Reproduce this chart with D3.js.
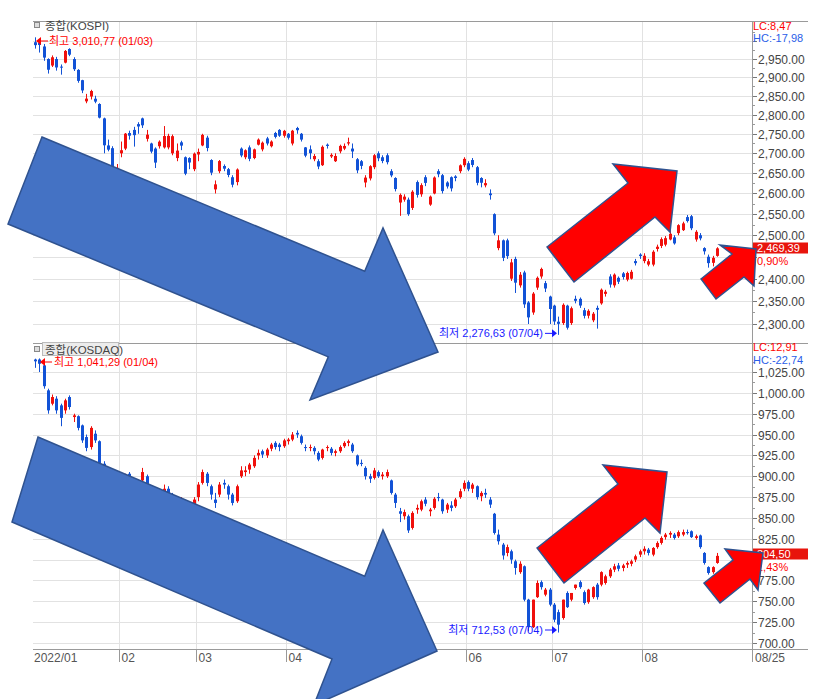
<!DOCTYPE html>
<html>
<head>
<meta charset="utf-8">
<script src="https://cdn.jsdelivr.net/npm/d3@7"></script>
<style>
body{margin:0;background:#fff;}
svg{display:block;}
text{font-family:"Liberation Sans","Noto Sans CJK KR",sans-serif;}
</style>
</head>
<body>
<script>
// month labels and the index of the first trading day of each month
var months = ["2022/01","02","03","04","05","06","07","08"];
var monthStart = [0,20,38,59,80,101,121,142];
var lastLabel = "08/25";

// KOSPI daily candles
var kospiOpen = [2997,2995,2985,2950,2932,2950,2929,2940,2978,2950,2920,2892,2835,2848,2842,2828,2790,2720,2713,2620,
2700,2712,2752,2760,2775,2790,2737,2725,2712,2718,2715,2715,2700,2688,2728,2690,2688,2660,
2697,2720,2740,2683,2610,2655,2668,2660,2640,2628,2712,2690,2715,2688,2722,2710,2738,2718,2752,2760,2745,
2750,2725,2765,2750,2715,2710,2685,2680,2670,2722,2692,2680,2705,2712,2725,2712,2685,2680,2627,2637,2665,
2700,2690,2695,2655,2638,2578,2585,2585,2565,2628,2598,2640,2573,2600,2655,2645,2627,2640,2642,2655,2670,
2675,2683,2665,2638,2620,2600,2550,2470,2488,2488,2400,2445,2385,2414,2347,2325,2380,2405,2390,2360,
2340,2305,2302,2340,2302,2355,2355,2330,2318,2308,2335,2345,2366,2405,2385,2402,2412,2398,2400,2440,2455,
2440,2432,2432,2468,2475,2478,2490,2495,2505,2512,2543,2545,2490,2500,2470,2450,2436,2452];
var kospiHigh = [3010.77,3000,2992,2952,2960,2956,2935,2975,2980,2955,2922,2893,2855,2866,2850,2830,2792,2735,2718,2673,
2730,2752,2758,2768,2780,2792,2760,2727,2715,2733,2770,2750,2748,2725,2732,2692,2690,2702,
2712,2750,2745,2685,2632,2683,2672,2663,2645,2662,2715,2710,2720,2712,2738,2730,2742,2733,2755,2762,2760,
2752,2760,2768,2752,2716,2720,2698,2685,2720,2725,2700,2700,2722,2725,2740,2725,2688,2683,2645,2670,2698,
2705,2695,2700,2660,2640,2600,2598,2590,2608,2632,2625,2645,2595,2642,2660,2648,2630,2642,2645,2672,2690,
2680,2688,2668,2640,2635,2610,2552,2500,2490,2492,2445,2450,2415,2418,2350,2370,2405,2425,2395,2362,
2342,2316,2345,2342,2338,2362,2358,2335,2332,2326,2340,2378,2375,2410,2412,2405,2415,2416,2420,2445,2458,
2458,2445,2465,2478,2495,2498,2512,2500,2526,2532,2548,2548,2512,2505,2472,2455,2452,2472];
var kospiLow = [2979,2968,2945,2910,2928,2918,2907,2938,2958,2917,2885,2857,2830,2840,2830,2790,2700,2705,2591,2591,
2690,2708,2735,2717,2750,2765,2730,2700,2663,2712,2712,2710,2695,2680,2708,2645,2660,2655,
2680,2718,2705,2645,2600,2650,2655,2640,2615,2620,2690,2685,2680,2685,2720,2705,2720,2715,2738,2742,2740,
2735,2720,2750,2730,2690,2685,2680,2660,2668,2712,2688,2678,2700,2708,2720,2688,2650,2660,2615,2632,2660,
2680,2675,2672,2640,2605,2546,2580,2546,2560,2590,2592,2618,2570,2598,2640,2600,2612,2605,2630,2650,2665,
2655,2665,2620,2615,2615,2585,2500,2465,2440,2445,2395,2368,2380,2335,2300,2320,2375,2400,2370,2300,
2298,2276.63,2298,2288,2298,2345,2335,2312,2312,2304,2290,2342,2360,2380,2380,2388,2398,2394,2398,2430,2445,
2435,2428,2428,2462,2470,2474,2488,2478,2500,2510,2530,2512,2485,2488,2455,2425,2428,2450];
var kospiClose = [2988.77,2989.24,2953.97,2920.53,2954.89,2926.72,2927.38,2972.48,2962.09,2921.92,2890.10,2864.24,2842.28,2862.68,2834.29,2792.00,2720.39,2709.24,2614.49,2663.34,
2707.82,2750.26,2745.06,2746.47,2768.85,2771.93,2747.71,2704.48,2676.54,2729.68,2744.09,2744.52,2743.80,2706.79,2719.53,2648.80,2676.76,2699.18,
2703.52,2747.08,2713.43,2651.31,2622.40,2680.32,2661.28,2645.65,2621.53,2659.23,2694.51,2707.64,2686.05,2710,2735,2727,2725,2730,2742,2745,2757.65,
2739.85,2757.90,2759.20,2735.03,2694.06,2700.39,2693.10,2666.76,2716.49,2718.69,2696.06,2693.21,2718.89,2718.69,2728.21,2704.71,2657.13,2668.31,2639.06,2667.49,2695.05,
2687.45,2680.46,2677.57,2644.51,2610.81,2596.56,2592.27,2550.08,2604.24,2596.58,2620.44,2625.98,2592.34,2639.29,2647.38,2605.87,2617.22,2612.45,2638.05,2669.66,2685.90,
2658.99,2670.65,2626.15,2626.34,2625.44,2595.87,2504.51,2488,2447.38,2451.41,2437,2391.03,2408.93,2342.81,2314.32,2366.60,2401.92,2422.09,2377.99,2332.64,
2305.42,2300.34,2341.78,2292.01,2334.27,2350.61,2340.27,2317.76,2328.61,2322.32,2330.98,2375.25,2370.80,2386.85,2409.18,2393.14,2403.69,2412.90,2415.53,2435.27,2451.50,
2452.25,2439.62,2461.45,2473.11,2490.80,2493.10,2503.46,2480.88,2523.78,2527.94,2533.52,2516.47,2508.05,2492.69,2462.50,2435.34,2447.45,2469.39];

// KOSDAQ daily candles
var kosdaqOpen = [1040,1040,1033,1003,987,993,985,979,995,971,972,961,947,935,951,942,915,882,875,852,
878,892,903,888,882,895,900,878,862,868,880,885,878,865,870,862,848,862,
875,892,903,888,872,878,892,888,878,870,900,905,908,912,925,930,925,933,940,938,936,
942,944,952,948,935,934,934,928,922,934,933,928,930,936,940,938,925,916,910,900,898,
905,900,900,895,878,858,852,852,838,860,860,872,858,862,875,872,860,865,864,875,885,
893,885,888,876,880,872,855,830,818,808,810,798,785,792,752,719,755,773,758,764,
746,737,730,760,752,766,773,761,749,755,770,770,772,780,788,793,790,794,795,800,806,
810,812,806,815,820,827,830,830,828,830,833,834,826,829,808,791,785,796];
var kosdaqHigh = [1041,1041.29,1034,1005,998,996,987,993,997,975,973,962,950,960,955,943,918,895,878,875,
895,903,905,892,892,910,902,880,868,880,890,888,880,872,875,864,862,875,
893,908,905,890,880,893,896,890,880,890,912,912,916,925,932,932,934,940,942,940,945,
946,953,955,950,938,938,936,930,933,937,935,932,937,942,944,940,926,920,912,903,910,
907,905,908,896,880,862,860,854,858,866,872,875,862,875,880,873,868,870,874,885,895,
895,892,889,882,885,875,856,836,820,818,812,800,798,793,753,752,775,775,766,766,
748,740,752,762,760,770,775,763,765,768,772,786,782,790,795,796,795,798,800,806,812,
816,814,815,822,828,832,834,832,835,836,836,835,830,830,809,792,792,808];
var kosdaqLow = [1030,1025,1005,975,985,975,960,975,980,965,955,940,930,932,940,912,878,865,845,840,
875,888,885,870,878,890,880,858,850,865,876,875,865,858,862,840,845,858,
870,890,888,872,862,875,885,872,865,868,898,900,903,910,920,922,922,930,932,930,934,
938,942,946,938,930,930,926,918,920,930,925,924,928,934,936,928,912,912,896,892,896,
898,896,898,878,862,845,848,832,836,855,858,864,852,860,870,855,856,858,862,873,882,
882,880,872,870,874,862,830,818,800,804,795,782,783,750,714,718,754,764,756,744,
725,712.53,728,742,750,764,765,746,747,753,752,768,770,778,785,786,786,790,792,797,803,
806,805,804,813,818,824,826,824,826,828,830,826,824,813,794,782,783,795];
var kosdaqClose = [1037.83,1034.90,1008,979,995,979,970,991,983,973,958,943,934,958,943,915,880,873,850,872,
891,901,888,878,888,905,884,862,864,878,885,880,870,867,871,846,860,872,
890,905,892,878,868,890,890,878,868,888,907,907,914,922,928,926,932,938,935,935,943,
944,950,950,940,934,935,930,920,932,935,928,930,935,940,942,930,914,915,900,897,907,
900,902,905,880,868,855,857,835,856,862,870,867,860,873,874,858,866,862,872,882,892,
885,890,875,880,878,866,832,822,805,815,800,790,795,752,719,752,772,767,764,746,
728,722,752,743,760,770,767,748,764,767,755,785,780,788,792,789,793,796,798,804,810,
813,808,814,820,826,830,832,826,833,833,832,827,828,815,796,784,791,804.50];

// axis ticks
var kospiTicks = [2300,2350,2400,2450,2500,2550,2600,2650,2700,2750,2800,2850,2900,2950,3000];
var kosdaqTicks = [700,725,750,775,800,825,850,875,900,925,950,975,1000,1025];

function init(){
    var w = 824, h = 699;
    var left = 33, right = 752, outer = 808;
    var topY = 21, midY = 343, botY = 649;
    var upColor = "#f0100c", downColor = "#1252d6";

    var svg = d3.select("body").append("svg")
        .attr("width", w).attr("height", h);

    var x = d3.scaleLinear().domain([-0.47, 167.17]).range([left, right]);
    var yTop = d3.scaleLog().domain([2259.3, 3057.3]).range([midY, topY]);
    var yBot = d3.scaleLinear().domain([692.8, 1059.8]).range([botY, midY]);

    var fmt = d3.format(",.2f");
    var grid = svg.append("g");

    // horizontal gridlines + right axis labels for a panel
    function drawAxis(y, ticks, skip, step){
        ticks.forEach(function(t){
            var yy = Math.round(y(t)) + 0.5;
            grid.append("line").attr("x1", left).attr("x2", right).attr("y1", yy).attr("y2", yy)
                .attr("stroke", "#e2e2e2");
            svg.append("line").attr("x1", right).attr("x2", right + 5).attr("y1", yy).attr("y2", yy)
                .attr("stroke", "#777");
            if (skip.indexOf(t) < 0) {
                svg.append("text").attr("x", right + 6).attr("y", yy + 4)
                    .attr("font-size", 12).attr("fill", "#444").text(fmt(t));
            }
            // small tick between labels
            var m = Math.round(y(t + step / 2)) + 0.5;
            if (t + step / 2 < y.domain()[1]) {
                svg.append("line").attr("x1", right).attr("x2", right + 3).attr("y1", m).attr("y2", m)
                    .attr("stroke", "#999");
            }
        });
    }
    drawAxis(yTop, kospiTicks, [3000, 2450], 50);
    drawAxis(yBot, kosdaqTicks, [800], 25);

    // month gridlines, ticks and labels
    monthStart.forEach(function(s, k){
        var gx = Math.round(x(s - 0.5)) + 0.5;
        if (k > 0) {
            grid.append("line").attr("x1", gx).attr("x2", gx).attr("y1", topY).attr("y2", botY)
                .attr("stroke", "#e2e2e2");
            svg.append("line").attr("x1", gx).attr("x2", gx).attr("y1", botY).attr("y2", botY + 13)
                .attr("stroke", "#999");
        }
        svg.append("text").attr("x", k > 0 ? gx + 2 : left + 1).attr("y", botY + 13)
            .attr("font-size", 12).attr("fill", "#555").text(months[k]);
    });
    svg.append("text").attr("x", right + 3).attr("y", botY + 13)
        .attr("font-size", 12).attr("fill", "#555").text(lastLabel);

    // frame lines
    svg.append("line").attr("x1", left).attr("x2", outer).attr("y1", topY + 0.5).attr("y2", topY + 0.5).attr("stroke", "#9a9a9a");
    svg.append("line").attr("x1", left).attr("x2", outer).attr("y1", midY + 0.5).attr("y2", midY + 0.5).attr("stroke", "#9a9a9a");
    svg.append("line").attr("x1", left).attr("x2", outer).attr("y1", botY + 0.5).attr("y2", botY + 0.5).attr("stroke", "#9a9a9a");
    svg.append("line").attr("x1", right + 0.5).attr("x2", right + 0.5).attr("y1", topY).attr("y2", botY + 13).attr("stroke", "#9a9a9a");

    // candles
    function drawCandles(y, O, H, L, C){
        var g = svg.append("g");
        var idx = d3.range(C.length);
        g.selectAll("line.wick").data(idx).enter().append("line")
            .attr("x1", function(i){ return Math.round(x(i)) + 0.5; })
            .attr("x2", function(i){ return Math.round(x(i)) + 0.5; })
            .attr("y1", function(i){ return y(H[i]); })
            .attr("y2", function(i){ return y(L[i]); })
            .attr("stroke", function(i){ return C[i] >= O[i] ? upColor : downColor; });
        g.selectAll("rect").data(idx).enter().append("rect")
            .attr("x", function(i){ return Math.round(x(i)) - 1; })
            .attr("width", 3)
            .attr("y", function(i){ return Math.min(y(O[i]), y(C[i])); })
            .attr("height", function(i){ return Math.max(1, Math.abs(y(O[i]) - y(C[i]))); })
            .attr("fill", function(i){ return C[i] >= O[i] ? upColor : downColor; });
    }
    drawCandles(yTop, kospiOpen, kospiHigh, kospiLow, kospiClose);
    drawCandles(yBot, kosdaqOpen, kosdaqHigh, kosdaqLow, kosdaqClose);

    // panel titles
    function title(ty, name, boxed){
        svg.append("rect").attr("x", 34.5).attr("y", ty - 6.5).attr("width", 5).attr("height", 5)
            .attr("fill", "#ddd").attr("stroke", "#888");
        if (boxed) {
            svg.append("rect").attr("x", 42.5).attr("y", ty - 10.5).attr("width", 76).attr("height", 13)
                .attr("fill", "#ececec").attr("stroke", "#bbb");
        }
        svg.append("text").attr("x", 45).attr("y", ty + 1).attr("font-size", 11.5).attr("fill", "#444").text(name);
    }
    title(29, "종합(KOSPI)", false);
    title(353, "종합(KOSDAQ)", true);

    // high / low markers
    function leftArrow(ax, ay, col){
        svg.append("line").attr("x1", ax + 3).attr("x2", ax + 12).attr("y1", ay).attr("y2", ay).attr("stroke", col);
        svg.append("path").attr("d", "M" + ax + "," + ay + "l5,-4l0,8z").attr("fill", col);
    }
    function rightArrow(ax, ay, col){
        svg.append("line").attr("x1", ax - 12).attr("x2", ax - 3).attr("y1", ay).attr("y2", ay).attr("stroke", col);
        svg.append("path").attr("d", "M" + ax + "," + ay + "l-5,-4l0,8z").attr("fill", col);
    }
    leftArrow(36, 41, "#f00");
    svg.append("text").attr("x", 49).attr("y", 45).attr("font-size", 11).attr("fill", "#f00").text("최고 3,010,77 (01/03)");
    leftArrow(40, 362, "#f00");
    svg.append("text").attr("x", 54).attr("y", 366).attr("font-size", 11).attr("fill", "#f00").text("최고 1,041,29 (01/04)");

    rightArrow(557, yTop(2276.63) - 1.5, "#1a1aff");
    svg.append("text").attr("x", 543).attr("y", 337).attr("font-size", 11).attr("fill", "#1a1aff")
        .attr("text-anchor", "end").text("최저 2,276,63 (07/04)");
    rightArrow(557, 630, "#1a1aff");
    svg.append("text").attr("x", 543).attr("y", 634).attr("font-size", 11).attr("fill", "#1a1aff")
        .attr("text-anchor", "end").text("최저 712,53 (07/04)");

    // LC / HC
    svg.append("text").attr("x", right + 1).attr("y", 30).attr("font-size", 11).attr("fill", "#f00").text("LC:8,47");
    svg.append("text").attr("x", right + 1).attr("y", 42).attr("font-size", 11).attr("fill", "#2a5ee8").text("HC:-17,98");
    svg.append("text").attr("x", right + 1).attr("y", 351).attr("font-size", 11).attr("fill", "#f00").text("LC:12,91");
    svg.append("text").attr("x", right + 1).attr("y", 364).attr("font-size", 11).attr("fill", "#2a5ee8").text("HC:-22,74");

    // current price tags
    function tag(ty, price, pct){
        svg.append("rect").attr("x", right + 1).attr("y", ty - 5.5).attr("width", outer - right - 1).attr("height", 11)
            .attr("fill", "#e8140c");
        svg.append("text").attr("x", right + 5).attr("y", ty + 4).attr("font-size", 11).attr("fill", "#fff").text(price);
        svg.append("text").attr("x", right + 5).attr("y", ty + 17).attr("font-size", 11).attr("fill", "#f00").text(pct);
    }
    tag(248, "2,469,39", "0,90%");
    tag(554, "804,50", "1,43%");

    // overlaid block arrows
    var blueArrows = [
        [[42,137],[364.7,271.2],[383,228],[438,352],[310,400],[328.3,356.8],[8,224]],
        [[38,437],[364.7,576.2],[383,530],[437,651],[313.8,705.2],[332,659],[12,522]]
    ];
    var redArrows = [
        [[547,247],[628,183],[613,164],[677,171],[670,232],[655,217],[574,282]],
        [[701,279],[732,254],[720,245],[756,249],[754,286],[744,277],[716,299]],
        [[537,548],[618,484],[603,465],[667,472],[660,533],[645,518],[564,583]],
        [[704,583],[733,560],[725,549],[763,553],[758,590],[750,579],[720,603]]
    ];
    svg.selectAll("polygon.blue").data(blueArrows).enter().append("polygon")
        .attr("points", function(d){ return d.join(" "); })
        .attr("fill", "#4472c4").attr("stroke", "#2f528f").attr("stroke-width", 1.5);
    svg.selectAll("polygon.red").data(redArrows).enter().append("polygon")
        .attr("points", function(d){ return d.join(" "); })
        .attr("fill", "#ff0000").attr("stroke", "#2f528f").attr("stroke-width", 1.5);
}

window.onload = init;
</script>
</body>
</html>
